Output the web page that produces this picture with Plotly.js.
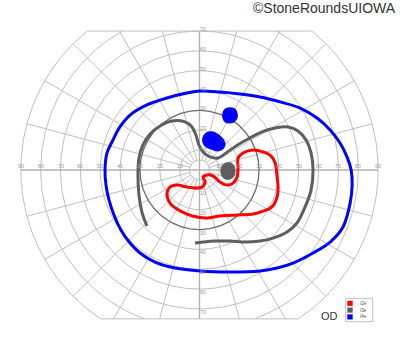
<!DOCTYPE html>
<html><head><meta charset="utf-8">
<script src="https://cdn.plot.ly/plotly-3.0.1.min.js"></script>
<style>html,body{margin:0;padding:0;background:#fff;} #chart{width:400px;height:352px;}</style>
</head><body><div id="chart"></div>
<script>
// ---- data (visual field degrees: x = temporal/nasal, y = superior/inferior) ----
const seriesNames  = ['I2e', 'I3e', 'I4e'];
const seriesColors = ['#ff0000', '#5e5e5e', '#0000ff'];

// I2e isopter (red, closed)
const i2eX = [19.4, 21.9, 27.0, 32.0, 36.0, 38.1, 39.1, 39.6, 39.1, 36.5, 32.0, 27.0, 18.9, 10.3, 3.8, -1.3, -6.3, -11.3, -14.9, -16.4, -14.9, -11.3, -6.3, -2.3, 1.3, 2.8, 1.8, 3.8, 6.8, 10.3, 13.9, 16.9, 18.9, 19.4, 19.4];
const i2eY = [6.0, 8.6, 10.1, 9.1, 7.1, 3.5, -3.5, -9.1, -13.6, -18.6, -20.7, -22.2, -22.7, -23.2, -24.2, -23.7, -22.2, -19.7, -16.6, -11.6, -8.6, -7.6, -8.6, -9.1, -8.6, -6.0, -3.5, -2.5, -3.0, -6.0, -7.6, -6.6, -3.5, 1.0, 6.0];

// I3e isopter (dark grey, open)
const i3eX = [-26.5, -29.0, -30.5, -31.0, -30.5, -28.5, -24.9, -19.9, -13.9, -7.3, -3.8, -1.8, -0.3, 1.8, 5.3, 9.3, 13.4, 18.4, 24.4, 31.5, 38.1, 44.6, 49.6, 53.7, 56.2, 57.2, 56.2, 53.2, 49.1, 44.1, 37.0, 30.5, 22.9, 15.4, 7.8, 1.8, -2.3];
const i3eY = [-28.2, -21.2, -12.6, -2.5, 6.0, 12.6, 18.1, 22.2, 24.7, 24.2, 21.7, 17.6, 12.6, 9.1, 6.6, 6.0, 8.6, 12.1, 15.6, 19.2, 21.2, 21.7, 19.7, 15.1, 8.6, 0.0, -10.1, -18.6, -26.7, -31.2, -34.3, -35.8, -36.3, -35.8, -35.8, -36.3, -36.8];
// I3e scotoma (filled)
const i3eSpotX = [13.4, 15.9, 17.4, 17.9, 17.4, 15.4, 12.9, 11.3, 10.8, 11.3, 13.4];
const i3eSpotY = [3.5, 3.5, 2.0, -0.5, -3.0, -4.5, -4.5, -3.0, -0.5, 2.0, 3.5];

// I4e isopter (blue, closed)
const i4eX = [-47.6, -47.1, -45.6, -43.1, -39.6, -35.0, -30.0, -22.4, -12.3, 0.3, 15.4, 30.5, 39.1, 47.1, 57.2, 65.8, 72.3, 75.9, 76.9, 76.4, 74.3, 70.8, 65.8, 59.2, 50.7, 40.6, 30.5, 20.4, 10.3, 0.3, -6.3, -16.4, -26.5, -35.0, -40.1, -43.6, -46.6, -47.6];
const i4eY = [0.0, -7.6, -15.1, -22.7, -30.2, -36.8, -41.8, -46.4, -49.4, -50.9, -51.4, -50.9, -49.4, -46.9, -41.8, -36.3, -28.7, -16.6, -7.6, 0.0, 6.6, 13.6, 20.2, 26.2, 31.2, 34.3, 36.8, 38.3, 39.3, 39.8, 38.8, 36.3, 32.8, 27.7, 21.7, 15.1, 8.6, 0.0];
// I4e islands (filled)
const i4eSpot1X = [12.9, 15.4, 17.9, 18.9, 18.9, 17.4, 14.9, 12.9, 11.8, 11.8, 12.9];
const i4eSpot1Y = [30.7, 31.3, 30.7, 28.7, 26.2, 24.2, 23.7, 24.2, 26.2, 28.7, 30.7];
const i4eSpot2X = [3.3, 6.8, 9.8, 11.8, 12.9, 11.8, 8.8, 5.8, 3.3, 1.8, 1.8, 3.3];
const i4eSpot2Y = [18.6, 19.2, 17.6, 15.6, 13.1, 10.6, 9.6, 10.6, 11.6, 13.6, 16.6, 18.6];

// grid definition
const ringDegrees = [10, 20, 30, 40, 50, 60, 70, 80, 90];
const boldRing = 30;
const horizTickLabels = ['10', '20', '30', '40', '50', '60', '70', '80', '90'];
const vertTickLabels  = ['10', '20', '30', '40', '50', '60', '70'];
const eyeLabel = 'OD';
const copyright = '\u00A9StoneRoundsUIOWA';

// ---- geometry ----
const W = 400, H = 352, CX = 199.5, CY = 170, S = 1.985;
const ML = 20, MR = 20, MT = 20, MB = 22;
const PW = W - ML - MR, PH = H - MT - MB;
const xRange = [(ML - CX) / S, (W - MR - CX) / S];
const yRange = [(CY - (H - MB)) / S, (CY - MT) / S];
const TOP = 70, BOTTOM = -75, OUTER = 90, INNER = 5, STEP = 15;
const px2paperX = px => (px - ML) / PW;
const py2paperY = py => ((H - MB) - py) / PH;

function makeLines(rings, withMeridians) {
  const xs = [], ys = [];
  const push = pts => { pts.forEach(p => { xs.push(p[0]); ys.push(p[1]); }); xs.push(null); ys.push(null); };
  const arc = (r, a0, a1) => {
    const pts = []; const n = Math.max(12, Math.ceil(Math.abs(a1 - a0)));
    for (let i = 0; i <= n; i++) { const a = (a0 + (a1 - a0) * i / n) * Math.PI / 180; pts.push([r * Math.cos(a), r * Math.sin(a)]); }
    push(pts);
  };
  rings.forEach(r => {
    const up = r > TOP ? Math.asin(TOP / r) * 180 / Math.PI : 90;
    const dn = r > -BOTTOM ? Math.asin(-BOTTOM / r) * 180 / Math.PI : 90;
    if (up === 90 && dn === 90) arc(r, 0, 360);
    else { arc(r, -dn, up); arc(r, 180 - up, 180 + dn); }
  });
  if (withMeridians) {
    for (let a = 0; a < 360; a += STEP) {
      if (a % 90 === 0) continue;
      const t = a * Math.PI / 180, s = Math.sin(t);
      let R = OUTER; if (s > 0) R = Math.min(R, TOP / s); if (s < 0) R = Math.min(R, BOTTOM / s);
      push([[INNER * Math.cos(t), INNER * Math.sin(t)], [R * Math.cos(t), R * Math.sin(t)]]);
    }
    const xt = Math.sqrt(OUTER * OUTER - TOP * TOP); push([[-xt, TOP], [xt, TOP]]);
    const xb = Math.sqrt(OUTER * OUTER - BOTTOM * BOTTOM); push([[-xb, BOTTOM], [xb, BOTTOM]]);
  }
  return { xs, ys };
}
const g = makeLines([INNER].concat(ringDegrees.filter(r => r !== boldRing)), true);
const gb = makeLines([boldRing], false);

const traces = [
  { x: g.xs, y: g.ys, mode: 'lines', line: { color: '#bfbfbf', width: 1 }, hoverinfo: 'skip', connectgaps: false },
  { x: [-OUTER, OUTER, null, 0, 0], y: [0, 0, null, TOP, BOTTOM], mode: 'lines', line: { color: '#b0b0b0', width: 1.3 }, hoverinfo: 'skip', connectgaps: false },
  { x: gb.xs, y: gb.ys, mode: 'lines', line: { color: '#6a6a6a', width: 1.3 }, hoverinfo: 'skip', connectgaps: false },
  { x: i3eX, y: i3eY, mode: 'lines', line: { color: seriesColors[1], width: 3, shape: 'spline', smoothing: 1 }, name: seriesNames[1] },
  { x: i3eSpotX, y: i3eSpotY, mode: 'lines', fill: 'toself', fillcolor: seriesColors[1], line: { color: seriesColors[1], width: 1, shape: 'spline' } },
  { x: i2eX, y: i2eY, mode: 'lines', line: { color: seriesColors[0], width: 3, shape: 'spline', smoothing: 1 }, name: seriesNames[0] },
  { x: i4eX, y: i4eY, mode: 'lines', line: { color: seriesColors[2], width: 3, shape: 'spline', smoothing: 1 }, name: seriesNames[2] },
  { x: i4eSpot1X, y: i4eSpot1Y, mode: 'lines', fill: 'toself', fillcolor: seriesColors[2], line: { color: seriesColors[2], width: 1, shape: 'spline' } },
  { x: i4eSpot2X, y: i4eSpot2Y, mode: 'lines', fill: 'toself', fillcolor: seriesColors[2], line: { color: seriesColors[2], width: 1, shape: 'spline' } }
];

const tickFont = { family: 'Liberation Sans, Arial, sans-serif', size: 5.5, color: '#9a9a9a' };
const annotations = [];
ringDegrees.forEach((r, i) => {
  annotations.push({ x: -r, y: 0, text: horizTickLabels[i], showarrow: false, font: tickFont, yshift: 4 });
  annotations.push({ x: r, y: 0, text: horizTickLabels[i], showarrow: false, font: tickFont, yshift: 4 });
  if (i < vertTickLabels.length) {
    annotations.push({ x: 0, y: r, text: vertTickLabels[i], showarrow: false, font: tickFont, xshift: 3, yshift: 2 });
    annotations.push({ x: 0, y: -r, text: vertTickLabels[i], showarrow: false, font: tickFont, xshift: 3, yshift: -3 });
  }
});
annotations.push({ xref: 'paper', yref: 'paper', x: px2paperX(398), y: py2paperY(7.5), xanchor: 'right', yanchor: 'middle', text: copyright, showarrow: false, font: { family: 'Liberation Sans, Arial, sans-serif', size: 14, color: '#333' } });
annotations.push({ xref: 'paper', yref: 'paper', x: px2paperX(329), y: py2paperY(316), xanchor: 'center', yanchor: 'middle', text: eyeLabel, showarrow: false, font: { family: 'Liberation Sans, Arial, sans-serif', size: 11, color: '#333' } });

const shapes = [];
const LB = { x0: 345.7, y0: 298.3, x1: 372.7, y1: 321.7 };
shapes.push({ type: 'rect', xref: 'paper', yref: 'paper', x0: px2paperX(LB.x0), x1: px2paperX(LB.x1), y0: py2paperY(LB.y1), y1: py2paperY(LB.y0), line: { color: '#b0b0b0', width: 0.8 }, fillcolor: '#fff' });
seriesNames.forEach((nm, i) => {
  const top = 300.7 + i * 6.8;
  shapes.push({ type: 'rect', xref: 'paper', yref: 'paper', x0: px2paperX(347.3), x1: px2paperX(352.7), y0: py2paperY(top + 5.2), y1: py2paperY(top), line: { width: 0 }, fillcolor: seriesColors[i] });
  annotations.push({ xref: 'paper', yref: 'paper', x: px2paperX(357.5), y: py2paperY(top + 2.6), xanchor: 'left', yanchor: 'middle', text: nm, showarrow: false, font: { family: 'Liberation Sans, Arial, sans-serif', size: 4.5, color: '#555' } });
});

const layout = {
  width: W, height: H,
  margin: { l: ML, r: MR, t: MT, b: MB, pad: 0 },
  paper_bgcolor: '#fff', plot_bgcolor: '#fff',
  showlegend: false,
  xaxis: { range: xRange, visible: false, fixedrange: true },
  yaxis: { range: yRange, visible: false, fixedrange: true },
  annotations, shapes
};
Plotly.newPlot('chart', traces, layout, { staticPlot: true, displayModeBar: false });
</script>
</body></html>
